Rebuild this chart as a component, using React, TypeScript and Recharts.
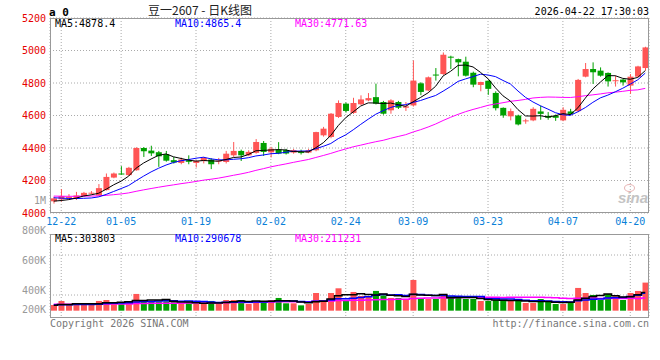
import React from 'react';
import { ComposedChart, Bar, Line, XAxis, YAxis, CartesianGrid, Cell } from 'recharts';

const UP = '#ff5555';
const DOWN = '#00a000';
const MONO = "'DejaVu Sans Mono', monospace";

const dates = [
  '12-19', '12-22', '12-23', '12-24', '12-25', '12-26', '12-29', '12-30', '12-31',
  '01-05', '01-06', '01-07', '01-08', '01-09', '01-12', '01-13', '01-14', '01-15', '01-16',
  '01-19', '01-20', '01-21', '01-22', '01-23', '01-26', '01-27', '01-28', '01-29', '01-30',
  '02-02', '02-03', '02-04', '02-05', '02-06', '02-09', '02-10', '02-11', '02-12', '02-13',
  '02-24', '02-25', '02-26', '02-27', '03-02', '03-03', '03-04', '03-05', '03-06',
  '03-09', '03-10', '03-11', '03-12', '03-13', '03-16', '03-17', '03-18', '03-19', '03-20',
  '03-23', '03-24', '03-25', '03-26', '03-27', '03-30', '03-31', '04-01', '04-02', '04-03',
  '04-07', '04-08', '04-09', '04-10', '04-13', '04-14', '04-15', '04-16', '04-17',
  '04-20', '04-21', '04-22',
];

const labelDates = ['12-22', '01-05', '01-19', '02-02', '02-24', '03-09', '03-23', '04-07', '04-20'];

const opens = [
  4072, 4084, 4092, 4088, 4104, 4122, 4108, 4141, 4218, 4243,
  4233, 4263, 4400, 4384, 4374, 4362, 4325, 4308, 4325, 4308,
  4320, 4329, 4316, 4314, 4355, 4382, 4355, 4370, 4431, 4373,
  4391, 4387, 4372, 4375, 4372, 4386, 4478, 4468, 4591, 4673,
  4616, 4669, 4693, 4713, 4683, 4632, 4683, 4648, 4662, 4798,
  4754, 4852, 4855, 4962, 4947, 4931, 4863, 4788, 4814, 4739,
  4647, 4595, 4600, 4566, 4570, 4625, 4598, 4598, 4570, 4625,
  4627, 4839, 4886, 4876, 4862, 4812, 4821, 4784, 4839, 4892,
];
const closes = [
  4090, 4104, 4098, 4108, 4124, 4125, 4153, 4222, 4243, 4237,
  4278, 4400, 4380, 4367, 4349, 4322, 4311, 4329, 4315, 4320,
  4339, 4300, 4322, 4365, 4382, 4355, 4376, 4437, 4376, 4395,
  4366, 4366, 4387, 4372, 4386, 4498, 4519, 4611, 4677, 4628,
  4677, 4699, 4707, 4673, 4611, 4693, 4648, 4656, 4815, 4745,
  4835, 4848, 4974, 4958, 4927, 4845, 4790, 4806, 4764, 4645,
  4600, 4627, 4545, 4570, 4641, 4610, 4586, 4586, 4635, 4610,
  4819, 4886, 4866, 4845, 4810, 4817, 4804, 4839, 4902, 5019,
];
const highs = [
  4100, 4147, 4116, 4130, 4130, 4135, 4178, 4243, 4249, 4288,
  4284, 4405, 4406, 4414, 4382, 4382, 4345, 4341, 4355, 4325,
  4345, 4337, 4339, 4382, 4437, 4390, 4386, 4455, 4443, 4407,
  4436, 4395, 4395, 4390, 4395, 4500, 4530, 4615, 4693, 4680,
  4709, 4724, 4738, 4796, 4690, 4700, 4690, 4683, 4939, 4805,
  4840, 4892, 4988, 4968, 4950, 4962, 4870, 4808, 4816, 4749,
  4650, 4643, 4605, 4580, 4651, 4661, 4621, 4606, 4651, 4641,
  4825, 4923, 4927, 4896, 4865, 4845, 4825, 4855, 4906, 5023,
];
const lows = [
  4058, 4070, 4080, 4080, 4100, 4116, 4104, 4138, 4214, 4236,
  4228, 4260, 4345, 4351, 4284, 4316, 4304, 4300, 4300, 4280,
  4305, 4270, 4300, 4305, 4345, 4320, 4350, 4365, 4351, 4342,
  4362, 4360, 4365, 4360, 4368, 4380, 4470, 4460, 4585, 4618,
  4610, 4665, 4688, 4668, 4605, 4611, 4640, 4628, 4655, 4725,
  4750, 4815, 4850, 4886, 4841, 4840, 4774, 4749, 4727, 4631,
  4586, 4570, 4539, 4549, 4565, 4574, 4574, 4567, 4565, 4603,
  4620, 4835, 4794, 4839, 4778, 4778, 4784, 4733, 4835, 4876,
];
// volume, thousands of lots
const volumes = [
  95, 162, 95, 128, 95, 95, 162, 178, 128, 145,
  128, 279, 178, 156, 156, 156, 145, 111, 145, 111,
  111, 162, 111, 178, 178, 178, 111, 162, 162, 178,
  212, 123, 123, 89, 111, 295, 178, 295, 373, 178,
  312, 245, 245, 329, 256, 212, 212, 178, 512, 195,
  195, 195, 245, 245, 212, 195, 195, 162, 162, 178,
  178, 162, 162, 128, 128, 195, 145, 111, 111, 145,
  379, 295, 262, 178, 279, 240, 178, 295, 329, 468,
];

// sessions before the visible window, only used so the averages start filled
const earlierCloses = [
  4125, 4118, 4102, 4096, 4110, 4121, 4130, 4115, 4098, 4090,
  4104, 4112, 4120, 4108, 4095, 4100, 4114, 4118, 4106, 4098,
  4128, 4120, 4112, 4110, 4105, 4085, 4070, 4062, 4058,
];
const earlierVolumes = [
  120, 105, 98, 130, 115, 102, 125, 110, 96, 118,
  108, 122, 100, 114, 126, 104, 112, 98, 116, 111,
  110, 96, 104, 92, 98, 95, 88, 84, 88,
];

const priceTicks = [4000, 4200, 4400, 4600, 4800, 5000, 5200];
const volGridTicks = [261, 595, 928];

const priceLegend = [
  { text: 'MA5:4878.4', color: '#000', x: 55 },
  { text: 'MA10:4865.4', color: '#0000ff', x: 175 },
  { text: 'MA30:4771.63', color: '#ff00ff', x: 295 },
];
const volLegend = [
  { text: 'MA5:303803', color: '#000', x: 55 },
  { text: 'MA10:290678', color: '#0000ff', x: 175 },
  { text: 'MA30:211231', color: '#ff00ff', x: 295 },
];
const volLabels = [
  { text: '800K', y: 231 },
  { text: '600K', y: 261 },
  { text: '400K', y: 291 },
  { text: '200K', y: 310 },
];

function movingAvg(series: number[], history: number[], n: number) {
  const all = [...history, ...series];
  return series.map((_, i) => {
    const end = history.length + i + 1;
    const win = all.slice(end - n, end);
    return win.reduce((a, b) => a + b, 0) / win.length;
  });
}

const ma5 = movingAvg(closes, earlierCloses, 5);
const ma10 = movingAvg(closes, earlierCloses, 10);
const ma30 = movingAvg(closes, earlierCloses, 30);
const vma5 = movingAvg(volumes, earlierVolumes, 5);
const vma10 = movingAvg(volumes, earlierVolumes, 10);
const vma30 = movingAvg(volumes, earlierVolumes, 30);

const rows = dates.map((d, i) => ({
  d,
  o: opens[i],
  c: closes[i],
  h: highs[i],
  l: lows[i],
  v: volumes[i],
  ma5: ma5[i],
  ma10: ma10[i],
  ma30: ma30[i],
  vma5: vma5[i],
  vma10: vma10[i],
  vma30: vma30[i],
}));

function Candle(props: any) {
  const { x, y, width, height } = props;
  const p = props.payload ?? props;
  const color = p.c >= p.o ? UP : DOWN;
  const top = Math.min(y, y + height);
  const span = Math.abs(height);
  const k = p.h > p.l ? span / (p.h - p.l) : 0;
  const bodyTop = top + (p.h - Math.max(p.o, p.c)) * k;
  const bodyH = Math.max(1, Math.abs(p.c - p.o) * k);
  const cx = x + width / 2;
  return (
    <g>
      <line x1={cx} x2={cx} y1={top} y2={top + span} stroke={color} strokeWidth={1} />
      <rect x={x} y={bodyTop} width={width} height={bodyH} fill={color} />
    </g>
  );
}

function Txt({
  x,
  y,
  children,
  color = '#000',
  size = 10,
  align = 'left',
  bold = false,
  font = MONO,
}: {
  x: number;
  y: number;
  children: React.ReactNode;
  color?: string;
  size?: number;
  align?: 'left' | 'right' | 'center';
  bold?: boolean;
  font?: string;
}) {
  const style: React.CSSProperties = {
    position: 'absolute',
    top: y - size / 2,
    height: size,
    lineHeight: `${size}px`,
    fontSize: size,
    fontFamily: font,
    color,
    whiteSpace: 'nowrap',
    fontWeight: bold ? 'bold' : 'normal',
  };
  if (align === 'right') style.right = 660 - x;
  else if (align === 'center') {
    style.left = x;
    style.transform = 'translateX(-50%)';
  } else style.left = x;
  return <div style={style}>{children}</div>;
}

export default function App() {
  return (
    <div
      style={{
        position: 'absolute',
        left: 0,
        top: 0,
        width: 660,
        height: 360,
        background: '#fff',
        overflow: 'hidden',
      }}
    >
      <div style={{ position: 'absolute', left: 0, top: 0 }}>
        <ComposedChart
          width={660}
          height={240}
          data={rows}
          margin={{ top: 18, right: 11, bottom: 0, left: 0 }}
          barSize={6}
        >
          <CartesianGrid stroke="#aaa" strokeDasharray="1 2" />
          <XAxis
            dataKey="d"
            ticks={labelDates}
            interval={0}
            tickLine={false}
            axisLine={false}
            tickSize={0}
            tickMargin={5}
            height={27}
            tick={{ fill: '#0a7fd8', fontSize: 10, fontFamily: MONO }}
          />
          <YAxis
            type="number"
            domain={[4000, 5200]}
            ticks={priceTicks}
            interval={0}
            width={50}
            allowDataOverflow
            tickLine={false}
            axisLine={false}
            tickSize={0}
            tickMargin={4}
            tick={{ fill: '#e60000', fontSize: 10, fontFamily: MONO }}
          />
          <Bar
            dataKey={(r: any) => [r.l, r.h]}
            shape={(p: any) => <Candle {...p} />}
            isAnimationActive={false}
          />
          <Line type="linear" dataKey="ma30" stroke="#ff00ff" strokeWidth={1} dot={false} isAnimationActive={false} />
          <Line type="linear" dataKey="ma10" stroke="#0000ff" strokeWidth={1} dot={false} isAnimationActive={false} />
          <Line type="linear" dataKey="ma5" stroke="#000" strokeWidth={1} dot={false} isAnimationActive={false} />
        </ComposedChart>
      </div>

      <div style={{ position: 'absolute', left: 0, top: 234 }}>
        <ComposedChart
          width={660}
          height={84}
          data={rows}
          margin={{ top: 0, right: 11, bottom: 0, left: 50 }}
          barSize={6}
        >
          <CartesianGrid stroke="#aaa" strokeDasharray="1 2" />
          <XAxis dataKey="d" ticks={labelDates} interval={0} hide />
          <YAxis type="number" domain={[-122, 1278]} ticks={volGridTicks} allowDataOverflow hide />
          <Bar dataKey="v" isAnimationActive={false}>
            {rows.map((r) => (
              <Cell key={r.d} fill={r.c >= r.o ? UP : DOWN} />
            ))}
          </Bar>
          <Line type="step" dataKey="vma30" stroke="#ff00ff" strokeWidth={1.5} dot={false} isAnimationActive={false} />
          <Line type="step" dataKey="vma10" stroke="#0000ff" strokeWidth={1.5} dot={false} isAnimationActive={false} />
          <Line type="step" dataKey="vma5" stroke="#000" strokeWidth={1.5} dot={false} isAnimationActive={false} />
        </ComposedChart>
      </div>

      {/* panel frames */}
      <div
        style={{
          position: 'absolute',
          left: 50,
          top: 18,
          width: 599,
          height: 195,
          border: '1px solid #999',
          boxSizing: 'border-box',
          pointerEvents: 'none',
        }}
      />
      <div
        style={{
          position: 'absolute',
          left: 50,
          top: 234,
          width: 599,
          height: 84,
          border: '1px solid #999',
          boxSizing: 'border-box',
          pointerEvents: 'none',
        }}
      />

      {/* header */}
      <Txt x={49} y={12} size={11} bold>
        a 0
      </Txt>
      <Txt x={200} y={10} size={12} align="center" color="#222" font="'Noto Sans CJK SC', sans-serif">
        豆一2607 - 日K线图
      </Txt>
      <Txt x={649} y={12} align="right">
        2026-04-22 17:30:03
      </Txt>

      {priceLegend.map((l) => (
        <Txt key={l.text} x={l.x} y={24} color={l.color}>
          {l.text}
        </Txt>
      ))}
      <Txt x={46} y={201} align="right" color="#999">
        1M
      </Txt>

      <div style={{ position: 'absolute', left: 618, top: 184, color: '#c4c4c4' }}>
        <div
          style={{
            position: 'absolute',
            left: 6,
            top: 0,
            width: 9,
            height: 6,
            borderRadius: '50%',
            border: '1px solid #e6b4b4',
          }}
        />
        <div
          style={{
            position: 'absolute',
            left: 0,
            top: 6,
            fontFamily: "'Liberation Sans', sans-serif",
            fontStyle: 'italic',
            fontWeight: 'bold',
            fontSize: 15,
            lineHeight: '15px',
          }}
        >
          sina
        </div>
      </div>

      {volLabels.map((l) => (
        <Txt key={l.text} x={46} y={l.y} align="right" color="#999">
          {l.text}
        </Txt>
      ))}
      {volLegend.map((l) => (
        <Txt key={l.text} x={l.x} y={239} color={l.color}>
          {l.text}
        </Txt>
      ))}

      <Txt x={50} y={324} color="#777">
        Copyright 2026 SINA.COM
      </Txt>
      <Txt x={649} y={324} align="right" color="#777">
        http://finance.sina.com.cn
      </Txt>
    </div>
  );
}
